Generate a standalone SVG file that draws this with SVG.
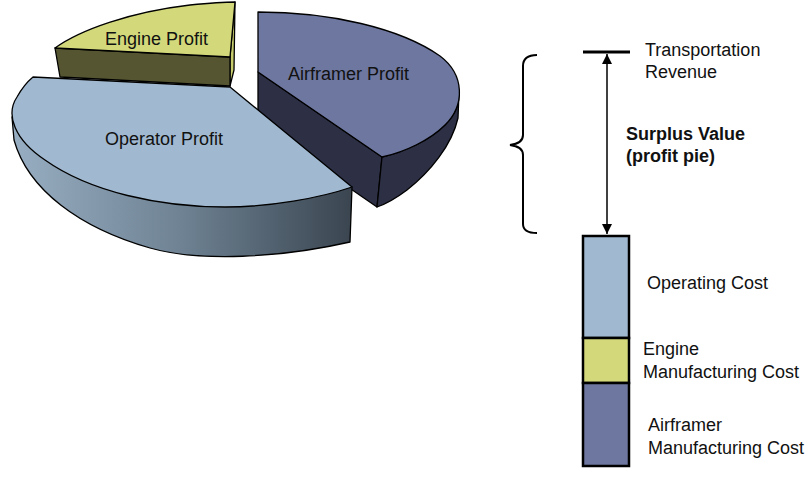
<svg xmlns="http://www.w3.org/2000/svg" width="808" height="479" viewBox="0 0 808 479">
<style>
text{font-family:"Liberation Sans",Arial,sans-serif;font-size:18px;fill:#111}
.b{font-weight:bold}
.pe{stroke:#000;stroke-width:1.3;stroke-linejoin:round}
.bar{stroke:#000;stroke-width:2.5}
.ln{stroke:#000;fill:none}
</style>
<defs>
<linearGradient id="opSide" x1="12" y1="0" x2="352" y2="0" gradientUnits="userSpaceOnUse">
<stop offset="0" stop-color="#98AEC2"/>
<stop offset="0.5" stop-color="#6E8293"/>
<stop offset="1" stop-color="#3A4550"/>
</linearGradient>
<marker id="ah" viewBox="0 0 10 10" refX="10" refY="5" markerWidth="10" markerHeight="10" markerUnits="userSpaceOnUse" orient="auto-start-reverse">
<path d="M0,0 L10,5 L0,10 Z" fill="#000"/>
</marker>
</defs>
<rect width="808" height="479" fill="#fff"/>

<g id="engine-profit">
<path class="pe" fill="#C6CB6C" d="M235,2 L234,70 L230,86 L230,57 Z"/>
<path class="pe" fill="#555631" d="M55,48 L230,57 L230,86 L60,77 Z"/>
<path class="pe" fill="#D3D97A" d="M55,48 C80,30 130,12 190,5 C210,3 225,2 235,2 L230,57 Z"/>
<text x="105" y="45">Engine Profit</text>
</g>

<g id="airframer-profit">
<path class="pe" fill="#2D3045" d="M258,72 L382,157 L377,207 L258,125 Z"/>
<path class="pe" fill="#2D3045" d="M382,157 C405,152 430,140 445,125 C455,115 460,103 459,92 L458,118 C452,145 430,172 407,190 C395,199 386,204 377,207 Z"/>
<path class="pe" fill="#6E779F" d="M258,12 C330,12 400,28 440,56 C465,75 465,105 445,125 C430,140 405,152 382,157 L258,72 Z"/>
<text x="288" y="80">Airframer Profit</text>
</g>

<g id="operator-profit">
<path class="pe" fill="url(#opSide)" d="M12,117 L14,140 C28,190 80,228 150,248 C200,262 280,258 350,242 L352,187 Z"/>
<path class="pe" fill="#A1B9D0" d="M33,77 L230,87 L352,187 C320,198 270,207 225,207 C160,207 90,192 45,160 C15,140 5,115 17,97 C22,88 27,82 33,77 Z"/>
<text x="105" y="145">Operator Profit</text>
</g>

<g id="connectors">
<line class="ln" x1="583" y1="52" x2="630" y2="52" stroke-width="3"/>
<line class="ln" x1="607" y1="54" x2="607" y2="234" stroke-width="1.5" marker-start="url(#ah)" marker-end="url(#ah)"/>
<path class="ln" stroke-width="2" d="M537,55 C528,55 523,58 523,66 L523,135 C523,141 518,144 510,145 C518,146 523,149 523,155 L523,224 C523,230 528,233 537,233"/>
</g>

<g id="transportation-revenue">
<text x="645" y="56">Transportation</text>
<text x="645" y="78">Revenue</text>
</g>

<g id="surplus-value">
<text class="b" x="626" y="140">Surplus Value</text>
<text class="b" x="626" y="162">(profit pie)</text>
</g>

<g id="operating-cost">
<rect class="bar" x="583" y="236" width="46" height="102" fill="#A1B9D0"/>
<text x="647" y="289">Operating Cost</text>
</g>

<g id="engine-cost">
<rect class="bar" x="583" y="338" width="46" height="45" fill="#D3D97A"/>
<text x="643" y="355">Engine</text>
<text x="643" y="378">Manufacturing Cost</text>
</g>

<g id="airframer-cost">
<rect class="bar" x="583" y="383" width="46" height="83" fill="#6E779F"/>
<text x="648" y="431">Airframer</text>
<text x="648" y="454">Manufacturing Cost</text>
</g>
</svg>
